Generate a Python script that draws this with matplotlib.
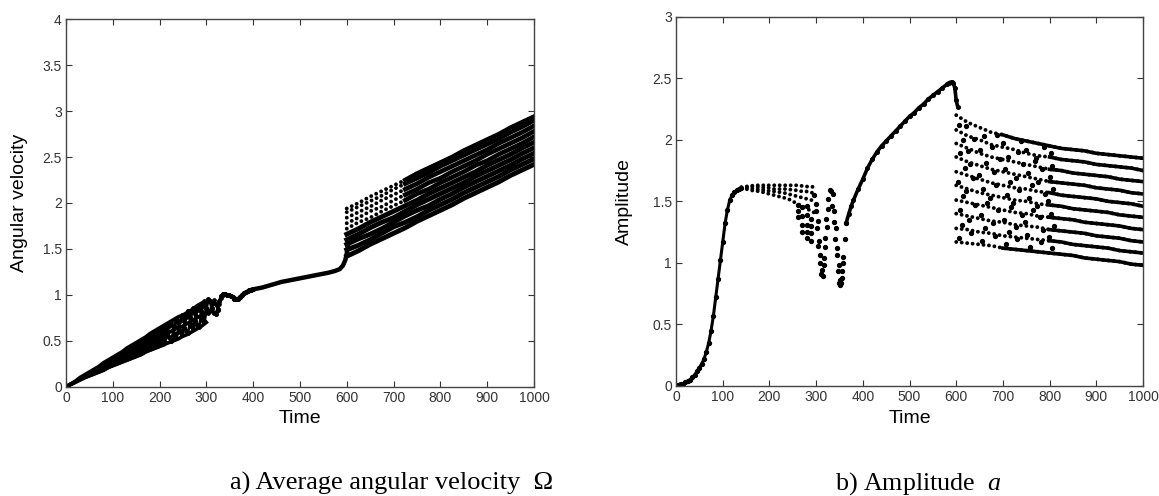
import numpy as np
import matplotlib
matplotlib.use("Agg")
import matplotlib.pyplot as plt

plt.rcParams['font.family'] = ['Liberation Sans', 'DejaVu Sans']
plt.rcParams['mathtext.fontset'] = 'custom'
plt.rcParams['mathtext.rm'] = 'Liberation Serif'
plt.rcParams['mathtext.it'] = 'Liberation Serif:italic'

# ---- a) average angular velocity ----
# early wedge (0..300), three traces
w_t = [0, 10, 20, 30, 40, 50, 60, 70, 80, 90, 100, 110, 120, 130, 140, 150,
       160, 170, 180, 190, 200, 210, 220, 230, 240, 250, 260, 270, 280, 290, 300]
w_upper = [0, 0.03, 0.06, 0.10, 0.13, 0.16, 0.19, 0.22, 0.26, 0.29, 0.32, 0.35, 0.38, 0.42,
           0.45, 0.48, 0.51, 0.54, 0.58, 0.61, 0.64, 0.67, 0.70, 0.73, 0.76, 0.78, 0.81,
           0.84, 0.88, 0.91, 0.93]
w_mid = [0, 0.028, 0.055, 0.085, 0.11, 0.14, 0.165, 0.19, 0.22, 0.25, 0.28, 0.30, 0.33, 0.36,
         0.38, 0.41, 0.43, 0.46, 0.49, 0.51, 0.54, 0.56, 0.59, 0.62, 0.64, 0.66, 0.69,
         0.72, 0.75, 0.78, 0.80]
w_lower = [0, 0.025, 0.05, 0.075, 0.10, 0.12, 0.14, 0.16, 0.18, 0.21, 0.23, 0.25, 0.27, 0.29,
           0.31, 0.33, 0.35, 0.38, 0.40, 0.42, 0.44, 0.46, 0.48, 0.50, 0.52, 0.55, 0.57,
           0.60, 0.63, 0.66, 0.70]
# oscillating part 200..400
osc_t = [200, 204, 208, 212, 216, 220, 224, 228, 232, 236, 240, 244, 248, 252, 256, 260,
         264, 268, 272, 276, 280, 284, 288, 292, 296, 300, 304, 308, 312, 316, 320, 324,
         328, 332, 336, 340, 344, 348, 352, 356, 360, 364, 368, 372, 376, 380, 384, 388,
         392, 396, 400]
osc_w = [0.55, 0.60, 0.64, 0.66, 0.61, 0.54, 0.50, 0.55, 0.65, 0.74, 0.70, 0.61, 0.56, 0.64,
         0.76, 0.82, 0.76, 0.67, 0.63, 0.72, 0.84, 0.89, 0.82, 0.72, 0.72, 0.86, 0.95, 0.93,
         0.86, 0.80, 0.79, 0.84, 0.93, 0.99, 1.01, 1.01, 1.00, 1.00, 0.99, 0.98, 0.96, 0.96,
         0.96, 0.98, 1.00, 1.02, 1.03, 1.04, 1.05, 1.05, 1.06]
osc2_w = [0.62, 0.57, 0.51, 0.49, 0.56, 0.66, 0.70, 0.66, 0.57, 0.53, 0.60, 0.71, 0.78, 0.72,
          0.61, 0.58, 0.66, 0.80, 0.86, 0.79, 0.67, 0.65, 0.74, 0.88, 0.93, 0.86, 0.80, 0.82,
          0.90, 0.94, 0.90, 0.85, 0.90, 0.97, 1.00, 1.01, 1.00, 1.00, 0.99, 0.98, 0.96, 0.96,
          0.96, 0.98, 1.00, 1.02, 1.03, 1.04, 1.05, 1.05, 1.06]
# smooth part 400..605
sm_t = [400, 420, 440, 460, 480, 500, 520, 540, 560, 575, 585, 592, 597, 600, 603]
sm_w = [1.06, 1.08, 1.11, 1.14, 1.16, 1.18, 1.20, 1.22, 1.24, 1.26, 1.28, 1.32, 1.38, 1.45, 1.55]
# branches 600..1000
band_t = [600, 625, 650, 675, 700, 725, 750, 775, 800, 825, 850, 875, 900, 925, 950, 975, 1000]
band_w = [
    [1.42, 1.48, 1.55, 1.61, 1.67, 1.73, 1.80, 1.86, 1.92, 1.98, 2.05, 2.11, 2.17, 2.23, 2.30, 2.36, 2.42],
    [1.49, 1.54, 1.60, 1.67, 1.74, 1.79, 1.85, 1.92, 1.98, 2.04, 2.11, 2.17, 2.23, 2.29, 2.36, 2.42, 2.48],
    [1.55, 1.61, 1.66, 1.72, 1.79, 1.86, 1.92, 1.97, 2.04, 2.10, 2.17, 2.23, 2.29, 2.35, 2.41, 2.48, 2.54],
    [1.60, 1.66, 1.73, 1.79, 1.84, 1.91, 1.98, 2.04, 2.10, 2.16, 2.22, 2.29, 2.35, 2.41, 2.47, 2.54, 2.60],
    [1.66, 1.72, 1.79, 1.85, 1.91, 1.97, 2.03, 2.10, 2.16, 2.22, 2.28, 2.34, 2.41, 2.47, 2.53, 2.60, 2.66],
    [1.72, 1.79, 1.84, 1.91, 1.97, 2.03, 2.10, 2.15, 2.22, 2.28, 2.34, 2.41, 2.46, 2.53, 2.59, 2.65, 2.72],
    [1.78, 1.84, 1.91, 1.96, 2.03, 2.09, 2.15, 2.22, 2.27, 2.34, 2.40, 2.46, 2.53, 2.59, 2.65, 2.71, 2.78],
    [1.84, 1.90, 1.96, 2.03, 2.09, 2.15, 2.21, 2.28, 2.34, 2.40, 2.46, 2.52, 2.58, 2.65, 2.71, 2.77, 2.84],
    [1.90, 1.96, 2.02, 2.08, 2.15, 2.21, 2.27, 2.33, 2.40, 2.46, 2.52, 2.58, 2.64, 2.70, 2.77, 2.83, 2.90],
    [1.94, 2.00, 2.07, 2.13, 2.19, 2.25, 2.32, 2.38, 2.44, 2.50, 2.57, 2.63, 2.69, 2.75, 2.82, 2.88, 2.94],
]

# ---- b) amplitude ----
rise_t = [0, 5, 10, 15, 20, 25, 30, 35, 40, 45, 50, 55, 60, 65, 70, 75, 80, 85, 90, 95,
          100, 105, 110, 115, 120, 125, 130, 135, 140]
rise_a = [0.01, 0.01, 0.02, 0.02, 0.03, 0.04, 0.05, 0.07, 0.09, 0.12, 0.15, 0.18, 0.22, 0.28,
          0.35, 0.45, 0.57, 0.72, 0.87, 1.02, 1.17, 1.32, 1.43, 1.51, 1.55, 1.575, 1.59,
          1.60, 1.61]
fan_t = [140, 150, 160, 170, 180, 190, 200, 210, 220, 230, 240, 250, 260, 270, 280, 290, 300]
fan_a = [
    [1.615, 1.62, 1.625, 1.63, 1.63, 1.63, 1.63, 1.63, 1.63, 1.63, 1.63, 1.63, 1.63, 1.625, 1.62, 1.62, 1.61],
    [1.61, 1.615, 1.62, 1.62, 1.615, 1.61, 1.61, 1.60, 1.60, 1.60, 1.60, 1.59, 1.59, 1.58, 1.58, 1.57, 1.57],
    [1.605, 1.61, 1.605, 1.60, 1.595, 1.59, 1.585, 1.58, 1.575, 1.57, 1.56, 1.55, 1.54, 1.53, 1.52, 1.51, 1.50],
    [1.60, 1.60, 1.59, 1.585, 1.58, 1.57, 1.56, 1.55, 1.54, 1.53, 1.52, 1.50, 1.48, 1.46, 1.44, 1.42, 1.40],
]
col_t = [262, 262, 262, 270, 270, 270, 270, 280, 280, 280, 280, 280, 290, 290, 290, 290]
col_a = [1.47, 1.42, 1.37, 1.45, 1.38, 1.31, 1.25, 1.46, 1.39, 1.31, 1.25, 1.20, 1.36, 1.30, 1.24, 1.18]
dip1_t = [296, 299, 302, 305, 308, 311, 314, 317, 320, 323, 326, 329]
dip1_a = [1.55, 1.42, 1.28, 1.14, 1.00, 0.91, 0.89, 0.98, 1.13, 1.29, 1.44, 1.59]
dip1b_t = [300, 303, 306, 309, 312, 316, 319, 322, 325]
dip1b_a = [1.48, 1.34, 1.18, 1.06, 0.94, 1.04, 1.20, 1.36, 1.52]
dip2_t = [332, 335, 338, 341, 344, 347, 350, 352, 354, 356, 358, 361, 364]
dip2_a = [1.58, 1.46, 1.33, 1.19, 1.06, 0.93, 0.84, 0.82, 0.84, 0.93, 1.05, 1.19, 1.32]
dip2b_t = [336, 339, 342, 345, 348, 351, 355, 358]
dip2b_a = [1.56, 1.42, 1.28, 1.12, 0.98, 0.86, 0.88, 1.00]
up_t = [364, 370, 375, 380, 390, 400, 410, 420, 430, 440, 450, 460, 470, 480, 490, 500,
        510, 520, 530, 540, 550, 560, 570, 580, 585, 590, 594, 597, 600, 603]
up_a = [1.32, 1.40, 1.46, 1.51, 1.60, 1.68, 1.77, 1.84, 1.90, 1.95, 1.99, 2.03, 2.07, 2.11,
        2.15, 2.19, 2.22, 2.26, 2.29, 2.33, 2.36, 2.39, 2.42, 2.45, 2.465, 2.47, 2.46, 2.42,
        2.32, 2.27]
band_a = [
    [1.17, 1.16, 1.15, 1.14, 1.12, 1.11, 1.10, 1.09, 1.08, 1.07, 1.06, 1.04, 1.03, 1.02, 1.01, 0.99, 0.98],
    [1.28, 1.27, 1.25, 1.24, 1.22, 1.21, 1.20, 1.19, 1.18, 1.17, 1.15, 1.14, 1.13, 1.12, 1.10, 1.09, 1.08],
    [1.40, 1.38, 1.36, 1.34, 1.33, 1.31, 1.30, 1.29, 1.27, 1.26, 1.25, 1.24, 1.22, 1.21, 1.20, 1.18, 1.17],
    [1.51, 1.49, 1.47, 1.45, 1.43, 1.41, 1.40, 1.38, 1.37, 1.36, 1.35, 1.33, 1.32, 1.31, 1.30, 1.28, 1.27],
    [1.63, 1.60, 1.57, 1.55, 1.53, 1.51, 1.50, 1.48, 1.47, 1.46, 1.44, 1.43, 1.42, 1.41, 1.39, 1.38, 1.37],
    [1.74, 1.71, 1.68, 1.65, 1.63, 1.61, 1.60, 1.58, 1.57, 1.55, 1.54, 1.53, 1.52, 1.50, 1.49, 1.48, 1.46],
    [1.86, 1.82, 1.79, 1.76, 1.74, 1.72, 1.70, 1.68, 1.66, 1.65, 1.64, 1.63, 1.61, 1.60, 1.59, 1.57, 1.56],
    [1.97, 1.93, 1.89, 1.86, 1.84, 1.82, 1.80, 1.78, 1.76, 1.75, 1.73, 1.72, 1.71, 1.70, 1.68, 1.67, 1.66],
    [2.08, 2.03, 2.00, 1.96, 1.94, 1.92, 1.89, 1.87, 1.86, 1.84, 1.83, 1.82, 1.80, 1.79, 1.78, 1.77, 1.75],
    [2.20, 2.14, 2.10, 2.06, 2.04, 2.01, 1.99, 1.97, 1.95, 1.93, 1.92, 1.91, 1.89, 1.88, 1.87, 1.86, 1.85],
]
# scattered points between the branches, 600..800
scat_t = [
    [605, 632, 655, 683, 706, 731, 758, 781, 805],
    [612, 628, 661, 678, 713, 727, 752, 786, 798],
    [608, 640, 652, 690, 702, 740, 748, 779, 810],
    [615, 622, 666, 672, 718, 722, 765, 772, 802],
    [603, 635, 658, 686, 709, 735, 756, 790, 796],
    [618, 630, 648, 680, 715, 729, 762, 776, 808],
    [609, 626, 664, 694, 704, 744, 754, 783, 800],
    [614, 638, 651, 676, 711, 733, 768, 770, 806],
    [606, 620, 660, 688, 700, 738, 750, 788, 803],
]
scat_a = [
    [1.20, 1.24, 1.18, 1.22, 1.15, 1.19, 1.13, 1.17, 1.12],
    [1.31, 1.35, 1.28, 1.32, 1.25, 1.29, 1.23, 1.27, 1.21],
    [1.43, 1.47, 1.39, 1.43, 1.35, 1.39, 1.33, 1.37, 1.30],
    [1.54, 1.58, 1.49, 1.53, 1.45, 1.49, 1.43, 1.46, 1.40],
    [1.66, 1.69, 1.60, 1.63, 1.55, 1.59, 1.53, 1.56, 1.50],
    [1.77, 1.80, 1.71, 1.74, 1.66, 1.69, 1.63, 1.66, 1.60],
    [1.89, 1.91, 1.81, 1.84, 1.76, 1.80, 1.73, 1.76, 1.70],
    [2.00, 2.01, 1.92, 1.94, 1.86, 1.90, 1.83, 1.85, 1.79],
    [2.12, 2.11, 2.03, 2.04, 1.97, 1.99, 1.92, 1.94, 1.89],
]

fig = plt.figure(figsize=(11.59, 4.96), dpi=100)
ax1 = fig.add_axes([0.0569, 0.2204, 0.4038, 0.7407])
ax2 = fig.add_axes([0.5833, 0.2218, 0.4029, 0.7446])

dots = dict(color='k', linestyle=(0, (0.01, 1.4)), dash_capstyle='round', linewidth=2.8)

# left panel
wt = np.array(w_t)
first = wt <= 210
ax1.fill_between(wt[first], np.array(w_lower)[first], np.array(w_upper)[first],
                 color='k', linewidth=2)
for ys in (w_upper, w_mid, w_lower):
    ax1.plot(w_t, ys, color='k', linewidth=2.6)
ax1.plot(osc_t, osc_w, color='k', linewidth=2.4, marker='o', markersize=2.6)
ax1.plot(osc_t, osc2_w, color='k', linewidth=2.0, marker='o', markersize=2.4)
ax1.plot(sm_t, sm_w, color='k', linewidth=3.2)
bt = np.array(band_t)
for i, ys in enumerate(band_w):
    ys = np.array(ys)
    if i < 5:
        ax1.plot(bt, ys, color='k', linewidth=3.5)
    else:
        ax1.plot(bt, ys, **dots)
        ax1.plot(bt[bt >= 725], ys[bt >= 725], color='k', linewidth=3.3)

# right panel
ax2.plot(rise_t, rise_a, color='k', linewidth=2.2, marker='o', markersize=2.8)
for ys in fan_a:
    ax2.plot(fan_t, ys, **dots)
ax2.plot(col_t, col_a, 'o', color='k', markersize=2.8)
for tt, aa in ((dip1_t, dip1_a), (dip1b_t, dip1b_a), (dip2_t, dip2_a), (dip2b_t, dip2b_a)):
    ax2.plot(tt, aa, 'o', color='k', markersize=2.8)
ax2.plot(up_t, up_a, color='k', linewidth=2.6, marker='o', markersize=2.6)
for i, ys in enumerate(band_a):
    ys = np.array(ys)
    ax2.plot(bt, ys, **dots)
    start = 700 if i in (0, 9) else 800
    ax2.plot(bt[bt >= start], ys[bt >= start], color='k', linewidth=2.6)
for tt, ys in zip(scat_t, scat_a):
    ax2.plot(tt, ys, 'o', color='k', markersize=2.8)

for ax, ymax, ylab, lx in ((ax1, 4, 'Angular velocity', -0.081), (ax2, 3, 'Amplitude', -0.092)):
    ax.set_xlim(0, 1000)
    ax.set_ylim(0, ymax)
    ax.set_xticks(np.arange(0, 1001, 100))
    ax.set_yticks(np.arange(0, ymax + 0.01, 0.5))
    ax.set_yticklabels(['%g' % v for v in np.arange(0, ymax + 0.01, 0.5)])
    ax.tick_params(direction='in', top=True, right=True, length=4, width=0.8,
                   colors='#333333', labelsize=10, pad=3)
    for s in ax.spines.values():
        s.set_color('#444444')
        s.set_linewidth(1.0)
    ax.set_xlabel('Time', fontsize=14, labelpad=4)
    ax.set_ylabel(ylab, fontsize=14)
    ax.yaxis.set_label_coords(lx, 0.5)

fig.text(230 / 1159, 1 - 490 / 496, 'a) Average angular velocity  \u03A9',
         family='Liberation Serif', fontsize=19, ha='left', va='baseline')
fig.text(835 / 1159, 1 - 490 / 496, r'b) Amplitude  $\it{a}$',
         family='Liberation Serif', fontsize=18.7, ha='left', va='baseline')

fig.savefig('out.png', dpi=100)
